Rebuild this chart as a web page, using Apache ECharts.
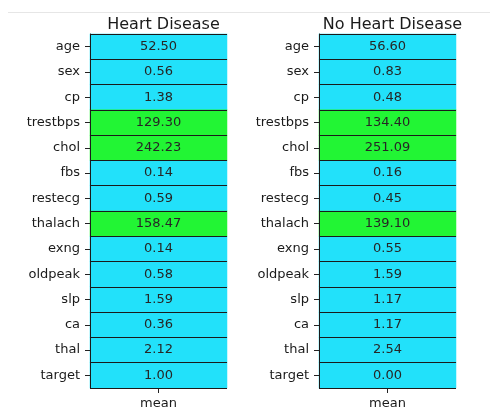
<!DOCTYPE html>
<html>
<head>
<meta charset="utf-8">
<script src="https://cdn.jsdelivr.net/npm/echarts@6/dist/echarts.min.js"></script>
<style>html,body{margin:0;padding:0;background:#fff;}#c{width:490px;height:410px;}</style>
</head>
<body>
<div id="c"></div>
<script>
const features = ['age','sex','cp','trestbps','chol','fbs','restecg','thalach','exng','oldpeak','slp','ca','thal','target'];
const columns = ['mean'];
const heartMeans = [52.50,0.56,1.38,129.30,242.23,0.14,0.59,158.47,0.14,0.58,1.59,0.36,2.12,1.00];
const noHeartMeans = [56.60,0.83,0.48,134.40,251.09,0.16,0.45,139.10,0.55,1.59,1.17,1.17,2.54,0.00];
const titles = ['Heart Disease','No Heart Disease'];
const CYAN = '#22E1FA', GREEN = '#22F534';

const chart = echarts.init(document.getElementById('c'));
const grids = [
  {left: 90, top: 34, width: 137, height: 355},
  {left: 319, top: 34, width: 137, height: 355}
];
const sets = [heartMeans, noHeartMeans];
const font = 'DejaVu Sans';

function mid(a){ return (Math.min(...a)+Math.max(...a))/2; }

const option = {
  animation: false,
  backgroundColor: '#fff',
  textStyle: {fontFamily: font},
  graphic: [{type:'line', shape:{x1:8,y1:12.5,x2:490,y2:12.5}, style:{stroke:'#e6e6e6', lineWidth:1}}],
  title: titles.map((t,i)=>({
    text: t, left: grids[i].left + grids[i].width/2, top: 12, textAlign: 'center',
    textStyle: {fontFamily: font, fontSize: 16, fontWeight: 'normal', color: '#1a1a1a'}
  })),
  grid: grids,
  xAxis: grids.map((g,i)=>({
    type:'category', data: columns, gridIndex: i, position: 'bottom',
    axisLine: {show:false},
    axisTick: {show:true, alignWithLabel:true, length:5, lineStyle:{color:'#222', width:1}},
    axisLabel: {fontFamily: font, fontSize: 13, color:'#1a1a1a', margin: 9},
    splitLine: {show:false}
  })),
  yAxis: grids.map((g,i)=>({
    type:'category', data: features, gridIndex: i, inverse: true, z: 5,
    axisLine: {show:true, lineStyle:{color:'#1a1a1a', width:1}},
    axisTick: {show:true, alignWithLabel:true, length:5, lineStyle:{color:'#222', width:1}},
    axisLabel: {fontFamily: font, fontSize: 13, color:'#1a1a1a', margin: 10},
    splitLine: {show:true, interval: (idx) => idx < features.length, lineStyle:{color:'#1a1a1a', width:1}}
  })),
  visualMap: sets.map((s,i)=>({
    type:'piecewise', show:false, seriesIndex: i, dimension: 2,
    pieces: [{lt: mid(s), color: CYAN}, {gte: mid(s), color: GREEN}]
  })),
  series: sets.map((s,i)=>({
    type:'heatmap', xAxisIndex:i, yAxisIndex:i, z: 1,
    data: s.map((v,j)=>[0,j,v]),
    itemStyle: {borderWidth:0},
    label: {show:true, fontFamily: font, fontSize: 13, color:'#262626',
      formatter: p => p.value[2].toFixed(2)},
    emphasis: {disabled:true}
  }))
};
chart.setOption(option);
</script>
</body>
</html>
